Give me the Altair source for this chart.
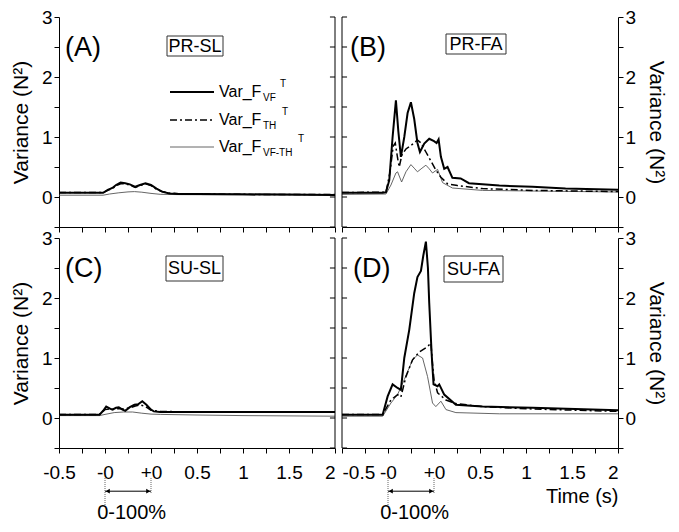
import altair as alt
import pandas as pd

FONT = "Liberation Sans"

# ---------------- axis definitions ----------------
x_ticks = [-0.5, -0.25, 0, 0.25, 0.5, 0.75, 1.0, 1.25, 1.5, 1.75, 2.0, 2.25, 2.5]
x_major = [-0.5, 0, 0.5, 1.0, 1.5, 2.0, 2.5]
x_major_labels = ["-0.5", "-0", "+0", "0.5", "1", "1.5", "2"]
y_ticks = [-0.5, 0, 0.5, 1, 1.5, 2, 2.5, 3]

series_names = ["Var_F_VF", "Var_F_TH", "Var_F_VF-TH"]

# ---------------- data (axis position, variance N^2) ----------------
# Panel A  PR-SL
a_vf_x = [-0.5, -0.3, -0.1, -0.02, 0.03, 0.08, 0.12, 0.17, 0.22, 0.27, 0.33, 0.38, 0.44, 0.5, 0.56, 0.62, 0.7, 0.8, 1.0, 1.5, 2.0, 2.5]
a_vf_y = [0.07, 0.07, 0.07, 0.07, 0.12, 0.15, 0.2, 0.24, 0.23, 0.21, 0.17, 0.2, 0.23, 0.2, 0.14, 0.09, 0.06, 0.05, 0.05, 0.045, 0.04, 0.035]
a_th_x = [-0.5, -0.3, -0.1, -0.02, 0.03, 0.08, 0.12, 0.17, 0.22, 0.27, 0.33, 0.38, 0.44, 0.5, 0.56, 0.62, 0.7, 0.8, 1.0, 1.5, 2.0, 2.5]
a_th_y = [0.075, 0.075, 0.075, 0.075, 0.11, 0.14, 0.19, 0.22, 0.22, 0.2, 0.16, 0.19, 0.22, 0.19, 0.13, 0.09, 0.065, 0.055, 0.05, 0.045, 0.04, 0.04]
a_d_x = [-0.5, -0.02, 0.05, 0.15, 0.25, 0.32, 0.4, 0.5, 0.6, 0.8, 1.5, 2.5]
a_d_y = [0.03, 0.03, 0.05, 0.07, 0.085, 0.09, 0.08, 0.06, 0.045, 0.04, 0.035, 0.03]

# Panel B  PR-FA
b_vf_x = [-0.5, -0.058, -0.022, 0.014, 0.05, 0.086, 0.112, 0.14, 0.177, 0.213, 0.249, 0.285, 0.32, 0.347, 0.394, 0.448, 0.5, 0.528, 0.55, 0.575, 0.611, 0.647, 0.7, 0.79, 0.88, 1.21, 1.57, 1.93, 2.5]
b_vf_y = [0.072, 0.072, 0.08, 0.28, 1.0, 1.61, 1.1, 0.67, 1.0, 1.4, 1.58, 1.3, 0.9, 0.75, 0.89, 0.97, 0.93, 0.9, 0.96, 0.67, 0.47, 0.5, 0.32, 0.31, 0.23, 0.19, 0.17, 0.14, 0.12]
b_th_x = [-0.5, -0.022, 0.02, 0.057, 0.079, 0.104, 0.122, 0.151, 0.195, 0.267, 0.32, 0.358, 0.412, 0.466, 0.52, 0.575, 0.647, 0.756, 1.027, 1.57, 2.5]
b_th_y = [0.075, 0.08, 0.4, 0.85, 0.9, 0.65, 0.5, 0.7, 0.8, 0.88, 0.95, 0.9, 0.75, 0.6, 0.45, 0.33, 0.22, 0.19, 0.14, 0.11, 0.09]
b_d_x = [-0.5, -0.022, 0.032, 0.086, 0.104, 0.148, 0.195, 0.249, 0.285, 0.32, 0.369, 0.412, 0.448, 0.484, 0.539, 0.593, 0.7, 1.027, 1.57, 2.5]
b_d_y = [0.044, 0.05, 0.2, 0.4, 0.42, 0.25, 0.42, 0.54, 0.48, 0.42, 0.48, 0.53, 0.47, 0.4, 0.46, 0.24, 0.15, 0.11, 0.1, 0.083]

# Panel C  SU-SL
c_vf_x = [-0.5, -0.1, -0.06, -0.02, 0.013, 0.05, 0.08, 0.12, 0.15, 0.19, 0.22, 0.27, 0.32, 0.36, 0.405, 0.45, 0.5, 0.53, 0.6, 0.8, 1.0, 1.5, 2.0, 2.5]
c_vf_y = [0.055, 0.055, 0.055, 0.12, 0.19, 0.16, 0.14, 0.17, 0.18, 0.14, 0.12, 0.18, 0.22, 0.23, 0.28, 0.22, 0.14, 0.11, 0.1, 0.1, 0.1, 0.1, 0.1, 0.1]
c_th_x = [-0.5, -0.06, 0.0, 0.05, 0.1, 0.15, 0.2, 0.27, 0.33, 0.38, 0.43, 0.5, 0.6, 1.0, 1.5, 2.5]
c_th_y = [0.06, 0.06, 0.14, 0.15, 0.14, 0.16, 0.15, 0.17, 0.2, 0.22, 0.2, 0.13, 0.11, 0.1, 0.1, 0.1]
c_d_x = [-0.5, -0.06, 0.0, 0.1, 0.2, 0.3, 0.4, 0.5, 0.6, 1.0, 1.5, 2.5]
c_d_y = [0.04, 0.04, 0.06, 0.09, 0.1, 0.1, 0.08, 0.065, 0.06, 0.05, 0.04, 0.03]

# Panel D  SU-FA
d_vf_x = [-0.5, -0.058, -0.004, 0.05, 0.104, 0.14, 0.177, 0.231, 0.285, 0.32, 0.358, 0.383, 0.412, 0.434, 0.448, 0.474, 0.495, 0.539, 0.557, 0.611, 0.738, 1.027, 1.57, 2.5]
d_vf_y = [0.055, 0.055, 0.36, 0.56, 0.5, 0.47, 1.0, 1.47, 2.08, 2.35, 2.45, 2.7, 2.94, 2.5, 1.92, 1.08, 0.56, 0.53, 0.56, 0.39, 0.22, 0.19, 0.17, 0.13]
d_th_x = [-0.5, -0.058, 0.032, 0.104, 0.14, 0.195, 0.267, 0.34, 0.43, 0.466, 0.484, 0.5, 0.539, 0.63, 0.738, 1.027, 1.57, 2.5]
d_th_y = [0.06, 0.06, 0.3, 0.39, 0.35, 0.69, 0.97, 1.1, 1.19, 1.25, 0.9, 0.64, 0.42, 0.3, 0.24, 0.19, 0.15, 0.11]
d_d_x = [-0.5, -0.058, 0.032, 0.104, 0.177, 0.267, 0.32, 0.376, 0.43, 0.484, 0.52, 0.575, 0.63, 0.738, 1.21, 2.5]
d_d_y = [0.03, 0.03, 0.25, 0.39, 0.64, 0.97, 1.05, 1.0, 0.69, 0.25, 0.19, 0.28, 0.14, 0.09, 0.07, 0.07]

# phase annotation (0-100 %) in axis units
phase_start, phase_end = 0.0, 0.5

W, H = 276, 210

x_label_expr = " : ".join(
    f"datum.value == {v} ? '{l}'" for v, l in zip(x_major, x_major_labels)
) + " : ''"
y_label_expr = "datum.value % 1 == 0 ? format(datum.value, 'd') : ''"

one = pd.DataFrame({"k": [0]})


def make_panel(vf, th, d, side, bottom_labels, tag, tag_x, box_text, box, legend=False,
               annot=False, xtitle=None):
    if bottom_labels:
        if side == "left":
            label_align = {"condition": {"test": "datum.value == 2.5", "value": "right"},
                           "value": "center"}
        else:
            label_align = {"condition": [{"test": "datum.value == 2.5", "value": "right"},
                                         {"test": "datum.value == -0.5", "value": "left"}],
                           "value": "center"}
        x_axis = alt.Axis(values=x_ticks, labelExpr=x_label_expr, tickSize=5, labelPadding=10,
                          labelFontSize=19, grid=False, domainColor="black", tickColor="black",
                          labelColor="black", titleFontSize=20, titleFontWeight="normal",
                          titleAnchor="end", titlePadding=4, labelFlush=False, labelOverlap=False,
                          labelAlign=label_align)
    else:
        x_axis = alt.Axis(values=x_ticks, labels=False, tickSize=5, grid=False,
                          domainColor="black", tickColor="black")
    y_axis = alt.Axis(orient=side, values=y_ticks, labelExpr=y_label_expr, tickSize=5,
                      labelPadding=2, labelFontSize=19, grid=False, domainColor="black",
                      tickColor="black", labelColor="black", titleFontSize=21,
                      titleFontWeight="normal", titlePadding=10, labelFlush=False,
                      labelOverlap=False)
    x_enc = alt.X("pos:Q", scale=alt.Scale(domain=[-0.5, 2.5], nice=False, zero=False),
                  axis=x_axis, title=xtitle)
    y_enc = alt.Y("val:Q", scale=alt.Scale(domain=[-0.5, 3], nice=False, zero=False),
                  axis=y_axis, title="Variance (N²)")

    def line_layer(xs, ys, **kw):
        df = pd.DataFrame({"pos": xs, "val": ys})
        return alt.Chart(df).mark_line(**kw).encode(x=x_enc, y=y_enc)

    layers = [
        line_layer(d[0], d[1], color="#555555", strokeWidth=0.9),
        line_layer(th[0], th[1], color="black", strokeWidth=1.5, strokeDash=[7, 3, 2, 3]),
        line_layer(vf[0], vf[1], color="black", strokeWidth=2),
    ]

    # opposite frame line with inward ticks
    edge = 2.5 if side == "left" else -0.5
    inward = -0.055 if side == "left" else 0.055
    frame = pd.DataFrame({"pos": [edge, edge], "val": [-0.5, 3]})
    layers.append(alt.Chart(frame).mark_line(color="black", strokeWidth=1).encode(x=x_enc, y=y_enc))
    tdf = pd.DataFrame({"pos": [edge] * len(y_ticks), "pos2": [edge + inward] * len(y_ticks),
                        "val": y_ticks})
    layers.append(alt.Chart(tdf).mark_rule(color="black", strokeWidth=1).encode(
        x=x_enc, x2="pos2:Q", y=y_enc))

    # panel tag
    layers.append(alt.Chart(one).mark_text(text=tag, fontSize=27, align="left", baseline="middle",
                                           color="black").encode(
        x=alt.value(tag_x), y=alt.value(31)))
    # boxed condition label
    bx0, bx1, by0, by1 = box
    layers.append(alt.Chart(one).mark_rect(filled=False, stroke="#333333", strokeWidth=1).encode(
        x=alt.value(bx0), x2=alt.value(bx1), y=alt.value(by0), y2=alt.value(by1)))
    layers.append(alt.Chart(one).mark_text(text=box_text, fontSize=18, align="center",
                                           baseline="middle", color="black").encode(
        x=alt.value((bx0 + bx1) / 2), y=alt.value((by0 + by1) / 2 + 0.5)))

    if legend:
        rows = [
            (75, {"color": "black", "strokeWidth": 2}, "VF", 221),
            (103, {"color": "black", "strokeWidth": 1.5, "strokeDash": [7, 3, 2, 3]}, "TH", 223),
            (130, {"color": "#555555", "strokeWidth": 0.9}, "VF-TH", 239),
        ]
        for ry, style, sub, tx in rows:
            layers.append(alt.Chart(one).mark_rule(**style).encode(
                x=alt.value(111), x2=alt.value(155), y=alt.value(ry)))
            layers.append(alt.Chart(one).mark_text(text="Var_F", fontSize=16, align="left",
                                                   baseline="middle", fill="black").encode(
                x=alt.value(160), y=alt.value(ry)))
            layers.append(alt.Chart(one).mark_text(text=sub, fontSize=10, align="left",
                                                   baseline="middle", fill="black").encode(
                x=alt.value(204), y=alt.value(ry + 6)))
            layers.append(alt.Chart(one).mark_text(text="T", fontSize=10, align="left",
                                                   baseline="middle", fill="black").encode(
                x=alt.value(tx), y=alt.value(ry - 8)))

    if annot:
        arrow = pd.DataFrame({"pos": [phase_start, phase_end], "val": [-1.22, -1.22]})
        layers.append(alt.Chart(arrow).mark_line(color="black", strokeWidth=1).encode(x=x_enc, y=y_enc))
        heads = pd.DataFrame({"pos": [phase_start + 0.03, phase_end - 0.03], "val": [-1.22, -1.22],
                              "shape": ["triangle-left", "triangle-right"]})
        layers.append(alt.Chart(heads).mark_point(filled=True, color="black", size=22, opacity=1).encode(
            x=x_enc, y=y_enc, shape=alt.Shape("shape:N", scale=None)))
        dots = pd.DataFrame({"pos": [phase_start, phase_start, phase_end, phase_end],
                             "val": [-1.0, -1.48, -1.0, -1.26], "g": ["s", "s", "e", "e"]})
        layers.append(alt.Chart(dots).mark_line(color="#666666", strokeWidth=1, strokeDash=[1, 1]).encode(
            x=x_enc, y=y_enc, detail="g:N"))
        lab = pd.DataFrame({"pos": [(phase_start + phase_end) / 2 + 0.04], "val": [-1.58]})
        layers.append(alt.Chart(lab).mark_text(text="0-100%", fontSize=20, align="center",
                                               baseline="middle", color="black").encode(
            x=x_enc, y=y_enc))

    return alt.layer(*layers).properties(width=W, height=H)


pA = make_panel((a_vf_x, a_vf_y), (a_th_x, a_th_y), (a_d_x, a_d_y), "left", False,
                "(A)", 6, "PR-SL", (108, 164, 19, 39), legend=True)
pB = make_panel((b_vf_x, b_vf_y), (b_th_x, b_th_y), (b_d_x, b_d_y), "right", False,
                "(B)", 8, "PR-FA", (104, 164, 17, 37))
pC = make_panel((c_vf_x, c_vf_y), (c_th_x, c_th_y), (c_d_x, c_d_y), "left", True,
                "(C)", 6, "SU-SL", (107, 164, 18, 43), annot=True)
pD = make_panel((d_vf_x, d_vf_y), (d_th_x, d_th_y), (d_d_x, d_d_y), "right", True,
                "(D)", 11, "SU-FA", (102, 161, 18, 44), annot=True, xtitle="Time (s)")

chart = alt.concat(pA, pB, pC, pD, columns=2, spacing={"row": 11, "column": 7},
                   bounds="flush").properties(
    padding={"left": 2, "top": 0, "right": 2, "bottom": 2}
).configure_view(stroke=None).configure_axis(
    labelFont=FONT, titleFont=FONT, titleColor="black"
).configure_text(font=FONT)

chart.save("out.html", embed_options={"renderer": "svg", "actions": False})
